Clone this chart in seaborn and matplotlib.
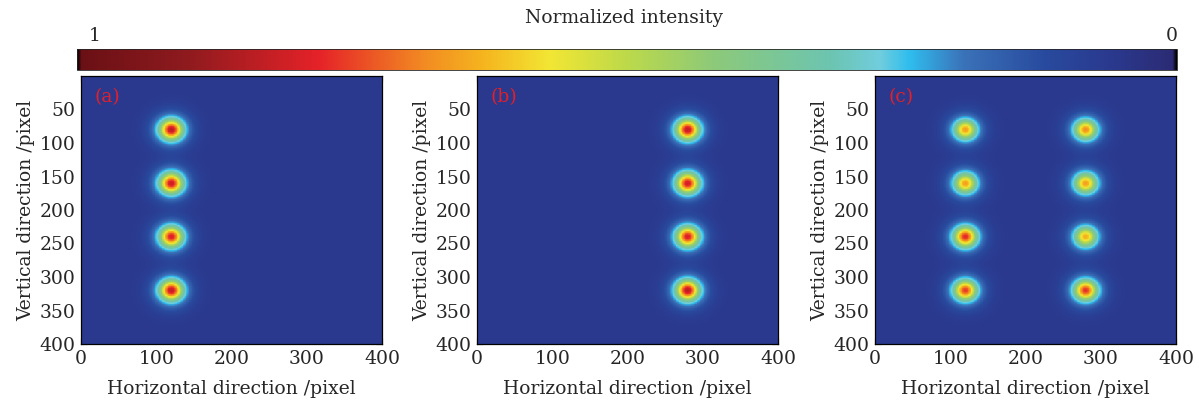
import numpy as np
import matplotlib
matplotlib.use("Agg")
import matplotlib.pyplot as plt
import seaborn as sns
from matplotlib.colors import LinearSegmentedColormap, Normalize
from matplotlib.cm import ScalarMappable

# ---------------- data ----------------
panel_labels = ["(a)", "(b)", "(c)"]
# spot centres (horizontal, vertical) in pixel units, and peak normalized intensity
spots_a_x = [120, 120, 120, 120]
spots_a_y = [80, 160, 240, 320]
spots_a_peak = [0.84, 0.82, 0.80, 0.83]
spots_b_x = [280, 280, 280, 280]
spots_b_y = [80, 160, 240, 320]
spots_b_peak = [0.83, 0.81, 0.80, 0.84]
spots_c_x = [120, 120, 120, 120, 280, 280, 280, 280]
spots_c_y = [80, 160, 240, 320, 80, 160, 240, 320]
spots_c_peak = [0.66, 0.66, 0.78, 0.76, 0.68, 0.66, 0.64, 0.77]
background_level = 0.06
core_sigma = 9.0
halo_sigma = 17.0
halo_weight = 0.42

x_ticks = [0, 100, 200, 300, 400]
y_ticks = [50, 100, 150, 200, 250, 300, 350, 400]
cbar_labels = ["1", "0"]
title = "Normalized intensity"
xlabel = "Horizontal direction /pixel"
ylabel = "Vertical direction /pixel"

# colormap anchors (value, colour) ; value 1 shown on the left
cmap_vals = [0.0, 0.004, 0.06, 0.12, 0.194, 0.243, 0.27, 0.315, 0.42, 0.5, 0.57, 0.63, 0.685, 0.78, 0.9, 0.996, 1.0]
cmap_cols = ["#000000", "#2b2b74", "#2a398e", "#284a9e", "#3a72b8", "#2fbdee", "#70cddc", "#6cc4b0",
             "#8cc97a", "#bcd94a", "#f2e633", "#f5b51e", "#f28a22", "#e52228", "#8e1a1e",
             "#6a1015", "#000000"]

# ---------------- build intensity images ----------------
N = 400
yy, xx = np.mgrid[0:N, 0:N] + 0.5


def make_image(sx, sy, peaks):
    img = np.full((N, N), background_level)
    for cx, cy, p in zip(sx, sy, peaks):
        r2 = (xx - cx) ** 2 + (yy - cy) ** 2
        amp = p - background_level
        prof = (1 - halo_weight) * np.exp(-r2 / (2 * core_sigma ** 2)) + \
            halo_weight * np.exp(-r2 / (2 * halo_sigma ** 2))
        img = img + amp * prof
    return np.clip(img, 0, 1)


images = [make_image(spots_a_x, spots_a_y, spots_a_peak),
          make_image(spots_b_x, spots_b_y, spots_b_peak),
          make_image(spots_c_x, spots_c_y, spots_c_peak)]

cmap = LinearSegmentedColormap.from_list("beam", list(zip(cmap_vals, cmap_cols)), N=1024)

# ---------------- figure ----------------
sns.set_style("ticks")
plt.rcParams["font.family"] = ["DejaVu Serif"]

W, H = 1199, 404
fig = plt.figure(figsize=(W / 100, H / 100), dpi=100)


def fr(x0, y0, x1, y1):
    return [x0 / W, 1 - y1 / H, (x1 - x0) / W, (y1 - y0) / H]


FS = 13.5
lefts = [81, 477, 875]
for i, (img, lab) in enumerate(zip(images, panel_labels)):
    ax = fig.add_axes(fr(lefts[i], 76, lefts[i] + 301, 344))
    sns.heatmap(img, ax=ax, cmap=cmap, vmin=0, vmax=1, cbar=False,
                xticklabels=False, yticklabels=False, rasterized=True)
    for s in ax.spines.values():
        s.set_visible(True)
        s.set_color("black")
        s.set_linewidth(0.9)
    ax.set_xticks(x_ticks)
    ax.set_xticklabels([str(t) for t in x_ticks], fontsize=FS, rotation=0)
    ax.set_yticks(y_ticks)
    ax.set_yticklabels([str(t) for t in y_ticks], fontsize=FS, rotation=0)
    ax.tick_params(direction="in", top=True, right=True, length=4, width=0.8,
                   color="black", pad=4)
    ax.set_xlabel(xlabel, fontsize=FS, labelpad=9)
    ax.set_ylabel(ylabel, fontsize=FS, labelpad=3)
    ax.text(0.045, 0.955, lab, transform=ax.transAxes, color="#e0202a",
            fontsize=FS, ha="left", va="top")

# colorbar
cax = fig.add_axes(fr(77, 49, 1177, 70))
sm = ScalarMappable(norm=Normalize(0, 1), cmap=cmap)
cb = fig.colorbar(sm, cax=cax, orientation="horizontal")
cax.invert_xaxis()
cb.set_ticks([0.5])
cax.set_xticklabels([""])
cax.tick_params(axis="x", direction="in", top=True, bottom=True, length=3, width=1.5,
                color="black")
cb.outline.set_linewidth(0.6)
fig.text(624 / W, 1 - 18 / H, title, ha="center", va="center", fontsize=FS)
fig.text(95 / W, 1 - 36 / H, cbar_labels[0], ha="center", va="center", fontsize=FS)
fig.text(1172 / W, 1 - 36 / H, cbar_labels[1], ha="center", va="center", fontsize=FS)

fig.savefig("out.png", dpi=100)
